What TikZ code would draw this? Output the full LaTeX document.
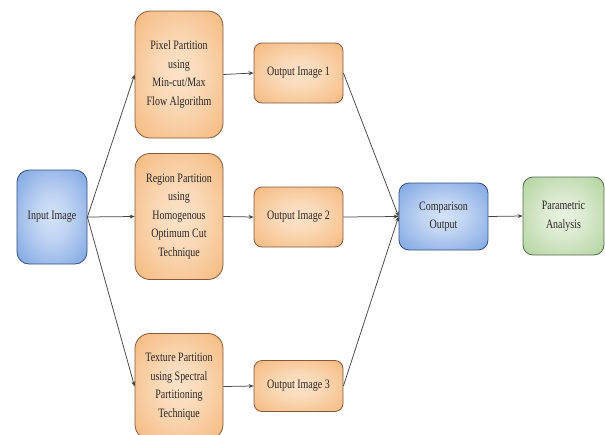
\documentclass[tikz,border=0pt]{standalone}
\usepackage{fontspec}
\setmainfont{Liberation Serif}[FakeStretch=0.78]
\usetikzlibrary{arrows.meta}
\definecolor{orL}{HTML}{FCE3C9}
\definecolor{orD}{HTML}{F2A55A}
\definecolor{orB}{HTML}{85593A}
\definecolor{blL}{HTML}{D3E2F8}
\definecolor{blD}{HTML}{5587D8}
\definecolor{blB}{HTML}{34507E}
\definecolor{grL}{HTML}{E8F2E0}
\definecolor{grD}{HTML}{98C47F}
\definecolor{grB}{HTML}{566B4C}
\definecolor{txt}{HTML}{2C2424}
\definecolor{lin}{HTML}{444444}
\pgfdeclareradialshading{orsh}{\pgfpointorigin}{color(0bp)=(orL); color(12bp)=(orL!85!orD); color(50bp)=(orD)}
\pgfdeclareradialshading{blsh}{\pgfpointorigin}{color(0bp)=(blL); color(12bp)=(blL!85!blD); color(50bp)=(blD)}
\pgfdeclareradialshading{grsh}{\pgfpointorigin}{color(0bp)=(grL); color(12bp)=(grL!85!grD); color(50bp)=(grD)}
\tikzset{
  boxbase/.style={rectangle, align=center, inner sep=0pt, line width=0.8pt,
    font=\fontsize{12.8}{18.5}\selectfont, text=txt},
  orbox/.style={boxbase, draw=orB, shading=orsh},
  blbox/.style={boxbase, draw=blB, shading=blsh},
  grbox/.style={boxbase, draw=grB, shading=grsh},
  conn/.style={draw=lin, line width=0.75pt, -{Stealth[length=5pt,width=4pt]}}
}
\begin{document}
\begin{tikzpicture}[x=1pt,y=-1pt]
\useasboundingbox (0,0) rectangle (605,434);
\clip (0,0) rectangle (605,434);
\node[blbox, rounded corners=12pt, minimum width=70pt, minimum height=94pt] (inp) at (52,217) {Input Image};
\node[orbox, rounded corners=15pt, minimum width=88pt, minimum height=127pt] (pix) at (179,74.5) {Pixel Partition\\using\\Min-cut/Max\\Flow Algorithm};
\node[orbox, rounded corners=15pt, minimum width=88pt, minimum height=126pt] (reg) at (179,216.5) {Region Partition\\using\\Homogenous\\Optimum Cut\\Technique};
\node[orbox, rounded corners=15pt, minimum width=88pt, minimum height=106pt] (tex) at (179,386.5) {Texture Partition\\using Spectral\\Partitioning\\Technique};
\node[orbox, rounded corners=8pt, minimum width=89pt, minimum height=60pt] (o1) at (298.5,73) {Output Image 1};
\node[orbox, rounded corners=8pt, minimum width=89pt, minimum height=60pt] (o2) at (298.5,217) {Output Image 2};
\node[orbox, rounded corners=8pt, minimum width=89pt, minimum height=51pt] (o3) at (298.5,386) {Output Image 3};
\node[blbox, rounded corners=10pt, minimum width=89pt, minimum height=67pt] (cmp) at (443.5,216.5) {Comparison\\Output};
\node[grbox, rounded corners=10pt, minimum width=81pt, minimum height=78pt] (par) at (563.5,216) {Parametric\\Analysis};
\draw[conn] (inp.east) -- (pix.west);
\draw[conn] (inp.east) -- (reg.west);
\draw[conn] (inp.east) -- (tex.west);
\draw[conn] (pix.east) -- (o1.west);
\draw[conn] (reg.east) -- (o2.west);
\draw[conn] (tex.east) -- (o3.west);
\draw[conn] (o1.east) -- (cmp.west);
\draw[conn] (o2.east) -- (cmp.west);
\draw[conn] (o3.east) -- (cmp.west);
\draw[conn] (cmp.east) -- (par.west);
\end{tikzpicture}
\end{document}
